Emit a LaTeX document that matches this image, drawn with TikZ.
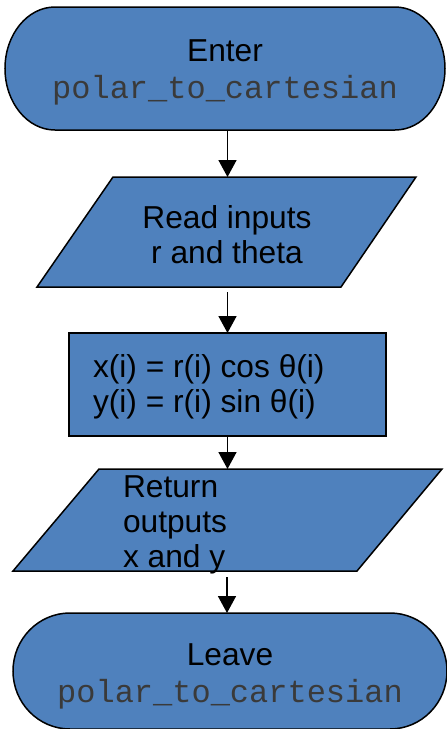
\documentclass[tikz,border=0pt]{standalone}
\usepackage{fontspec}
\setmainfont{Liberation Sans}
\setmonofont{Liberation Mono}
\usetikzlibrary{arrows.meta}
\definecolor{flowblue}{HTML}{4F81BD}
\definecolor{monogray}{HTML}{3A3A3A}
\newcommand{\monotxt}[1]{{\fontsize{32}{36}\selectfont\ttfamily\color{monogray}#1}}
\tikzset{
  shapebox/.style={draw=black, line width=1.5pt, fill=flowblue, line join=miter},
  holder/.style={inner sep=0pt, outer sep=0pt, font=\fontsize{31.7}{35}\selectfont},
  arr/.style={line width=1.6pt, -{Triangle[width=18pt,length=17pt]}}
}
\begin{document}
\begin{tikzpicture}[x=1pt,y=1pt]
\useasboundingbox (0,0) rectangle (447,-729);
% shapes
\path[shapebox] (55,-7) -- (395,-7) arc[start angle=90,end angle=-90,x radius=50pt,y radius=61.5pt]
  -- (55,-130) arc[start angle=270,end angle=90,x radius=50pt,y radius=61.5pt] -- cycle;
\path[shapebox] (113,-177) -- (416,-177) -- (341,-287) -- (37,-287) -- cycle;
\path[shapebox] (69,-333) rectangle (386,-436);
\path[shapebox] (99,-469) -- (442,-469) -- (357,-571) -- (13,-571) -- cycle;
\path[shapebox] (70,-613) -- (390,-613) arc[start angle=90,end angle=-90,x radius=57pt,y radius=58pt]
  -- (70,-729) arc[start angle=270,end angle=90,x radius=57pt,y radius=58pt] -- cycle;
% nodes
\node[holder, minimum width=440pt, minimum height=123pt] (start) at (225,-68.5) {};
\node[holder, align=center] (starttext) at (225,-72)
  {Enter\\[2pt]\monotxt{polar\_to\_cartesian}};
\node[holder, minimum width=379pt, minimum height=110pt] (read) at (226.5,-232) {};
\node[holder, align=center] (readtext) at (227,-235) {Read inputs\\r and theta};
\node[holder, minimum width=317pt, minimum height=103pt] (proc) at (227.5,-384.5) {};
\node[holder, anchor=west, align=left] (proctext) at (93,-387)
  {x(i) = r(i) cos θ(i)\\y(i) = r(i) sin θ(i)};
\node[holder, minimum width=429pt, minimum height=102pt] (ret) at (227.5,-520) {};
\node[holder, anchor=west, align=left] (rettext) at (123,-525)
  {Return\\outputs\\x and y};
\node[holder, minimum width=434pt, minimum height=116pt] (stop) at (230,-671) {};
\node[holder, align=center] (stoptext) at (230,-676)
  {Leave\\[2pt]\monotxt{polar\_to\_cartesian}};
% connectors
\draw[arr] (start.south -| proc) -- (read.north -| proc);
\draw[arr] ([yshift=-5pt]read.south -| proc) -- (proc.north);
\draw[arr] (proc.south) -- (ret.north);
\draw[arr] ([yshift=-6pt]ret.south -| 227,0) -- (stop.north -| 227,0);
\end{tikzpicture}
\end{document}
